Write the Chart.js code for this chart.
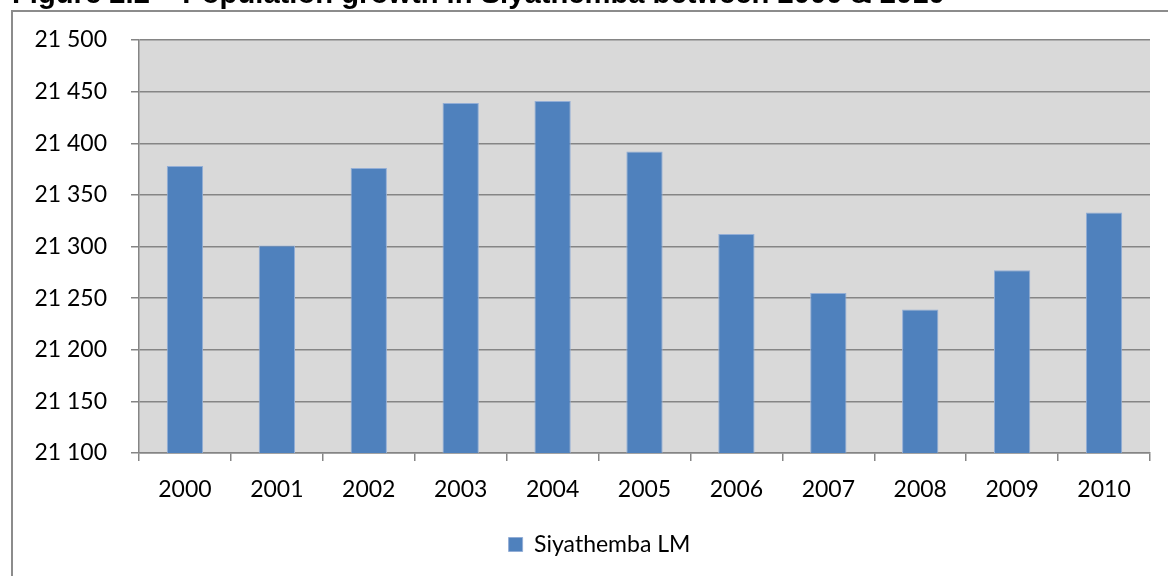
<!DOCTYPE html>
<html><head><meta charset="utf-8">
<script src="https://cdn.jsdelivr.net/npm/chart.js@4.4.0/dist/chart.umd.min.js"></script>
<style>
html,body{margin:0;padding:0;width:1168px;height:576px;overflow:hidden;background:#fff;}
#frame{position:absolute;left:11px;top:10px;width:1300px;height:700px;border:2px solid #8c8c8c;box-sizing:border-box;}
#wrap{position:absolute;left:0;top:0;width:1168px;height:576px;}
</style></head><body>
<div id="frame"></div>
<div id="wrap"><canvas id="c" width="1168" height="576"></canvas></div>
<script>
const titleText = "Figure 2.2 – Population growth in Siyathemba between 2000 & 2010";
const categories = ["2000","2001","2002","2003","2004","2005","2006","2007","2008","2009","2010"];
const seriesName = "Siyathemba LM";
const populationValues = [21378, 21301, 21376, 21439, 21441, 21392, 21312, 21255, 21239, 21277, 21333];
const yMin = 21100, yMax = 21500, yStep = 50;

const FONT = "Lato";
const GRID = "#858585";

const bgPlugin = {
  id: 'plotBg',
  afterLayout(chart) {
    if (chart.legend) { chart.legend.left = 49; }
  },
  beforeDraw(chart) {
    const {ctx, chartArea: a} = chart;
    ctx.save();
    ctx.fillStyle = '#D9D9D9';
    ctx.fillRect(a.left, a.top, a.right - a.left, a.bottom - a.top);
    ctx.restore();
  }
};
const titlePlugin = {
  id: 'cutTitle',
  afterDraw(chart) {
    const ctx = chart.ctx;
    ctx.save();
    ctx.font = 'bold 24px "Liberation Sans"';
    const w = ctx.measureText(titleText).width;
    const size = 24 * 933 / w;
    ctx.font = 'bold ' + size.toFixed(2) + 'px "Liberation Sans"';
    ctx.fillStyle = '#000';
    ctx.textBaseline = 'alphabetic';
    ctx.textAlign = 'left';
    ctx.fillText(titleText, 12, 3);
    ctx.restore();
  }
};

function fmt(v){ return String(v).replace(/\B(?=(\d{3})+(?!\d))/g, ' '); }

new Chart(document.getElementById('c'), {
  type: 'bar',
  data: {
    labels: categories,
    datasets: [{
      label: seriesName,
      data: populationValues,
      backgroundColor: '#4F81BD',
      borderColor: '#93AED6',
      borderWidth: 1,
      barPercentage: 0.395,
      categoryPercentage: 1.0
    }]
  },
  options: {
    responsive: false,
    animation: false,
    layout: { padding: { top: 40, left: 0, right: 18, bottom: 10 } },
    plugins: {
      title: { display: false },
      tooltip: { enabled: false },
      legend: {
        position: 'bottom',
        labels: {
          color: '#000',
          font: { family: FONT, size: 23 },
          boxWidth: 14, boxHeight: 14, padding: 10
        }
      }
    },
    scales: {
      x: {
        grid: { display: true, drawOnChartArea: false, drawTicks: true, tickLength: 8, color: GRID, lineWidth: 1.5, offset: true },
        border: { display: true, color: GRID, width: 1.5 },
        ticks: { color: '#000', font: { family: FONT, size: 23 }, padding: 15, maxRotation: 0, autoSkip: false },
        afterFit(s) { s.height = 70; }
      },
      y: {
        min: yMin, max: yMax,
        grid: { color: GRID, lineWidth: 1.5, drawTicks: true, tickLength: 8, tickColor: GRID },
        border: { display: true, color: GRID, width: 1.5 },
        ticks: { stepSize: yStep, color: '#000', font: { family: FONT, size: 23 }, padding: 24, callback: v => fmt(v) },
        afterFit(s) { s.width = 139; }
      }
    }
  },
  plugins: [bgPlugin, titlePlugin]
});
</script>
</body></html>
